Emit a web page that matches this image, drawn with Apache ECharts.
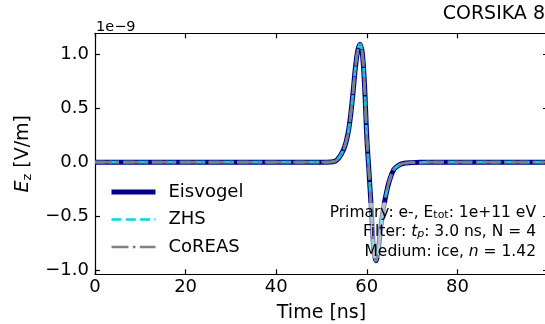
<!DOCTYPE html>
<html>
<head>
<meta charset="utf-8">
<script src="https://cdn.jsdelivr.net/npm/echarts@6/dist/echarts.min.js"></script>
<style>
html,body{margin:0;padding:0;background:#fff;}
#c{width:545px;height:324px;}
</style>
</head>
<body>
<div id="c"></div>
<script>
// ---- data (E_z in units of 1e-9 V/m) ----
var timeNs = [0, 10, 20, 30, 40, 50, 52, 53, 53.5, 54, 54.5, 55, 55.5, 56, 56.5, 57, 57.5, 58, 58.5, 59, 59.5, 60, 60.5, 61, 61.5, 62, 62.5, 63, 63.5, 64, 64.5, 65, 66, 67, 68, 70, 72, 75, 80, 90, 100];
var eisvogel = [0, 0, 0, 0, 0, 0, 0.002, 0.01, 0.025, 0.05, 0.085, 0.13, 0.2, 0.3, 0.46, 0.66, 0.88, 1.03, 1.09, 1.01, 0.71, 0.23, -0.1, -0.44, -0.8, -0.91, -0.82, -0.63, -0.47, -0.35, -0.25, -0.17, -0.065, -0.03, -0.012, -0.004, -0.001, 0, 0, 0, 0];
var zhs = [0, 0, 0, 0, 0, 0, 0.002, 0.01, 0.025, 0.05, 0.085, 0.13, 0.2, 0.3, 0.46, 0.66, 0.88, 1.03, 1.09, 1.01, 0.71, 0.23, -0.1, -0.44, -0.8, -0.91, -0.82, -0.63, -0.47, -0.35, -0.25, -0.17, -0.065, -0.03, -0.012, -0.004, -0.001, 0, 0, 0, 0];
var coreas = [0, 0, 0, 0, 0, 0, 0.002, 0.01, 0.025, 0.05, 0.085, 0.13, 0.2, 0.3, 0.46, 0.66, 0.88, 1.03, 1.09, 1.01, 0.71, 0.23, -0.1, -0.44, -0.8, -0.91, -0.82, -0.63, -0.47, -0.35, -0.25, -0.17, -0.065, -0.03, -0.012, -0.004, -0.001, 0, 0, 0, 0];
var xTicks = [0, 20, 40, 60, 80];
var yTicks = [-1, -0.5, 0, 0.5, 1];
var seriesNames = ['Eisvogel', 'ZHS', 'CoREAS'];

function pairs(xs, ys) { return xs.map(function (x, i) { return [x, ys[i]]; }); }
function fmtY(v) { var s = Math.abs(v) < 1e-9 ? '0.0' : v.toFixed(1); return s.replace('-', '\u2212'); }

var FONT = 'DejaVu Sans';
var chart = echarts.init(document.getElementById('c'), null, {renderer: 'canvas'});
function axisLine() { return {show: true, onZero: false, lineStyle: {color: '#000', width: 1.2}}; }
function tick(vals) { return {show: true, inside: true, length: 5, customValues: vals, lineStyle: {color: '#000', width: 1.2}}; }

var styles = {
  Eisvogel: {color: '#00008b', width: 5, type: 'solid'},
  ZHS: {color: '#00d8e0', width: 2.7, type: [10, 4.3]},
  CoREAS: {color: '#808080', width: 2.7, type: [17, 4.3, 2.7, 4.3]}
};

chart.setOption({
  animation: false,
  backgroundColor: '#fff',
  textStyle: {fontFamily: FONT},
  grid: {left: 95, right: -3, top: 33.3, bottom: 49.7, containLabel: false, outerBoundsMode: 'none'},
  title: {
    text: 'CORSIKA 8', right: 0, top: 5, padding: 0,
    textStyle: {fontFamily: FONT, fontSize: 19, fontWeight: 'normal', color: '#000'}
  },
  legend: {
    orient: 'vertical', left: 104, top: 178,
    itemWidth: 44, itemHeight: 14, itemGap: 9.5,
    itemStyle: {opacity: 0},
    data: seriesNames.map(function (n) {
      return {name: n, itemStyle: {opacity: 0}, lineStyle: {width: styles[n].width, type: styles[n].type, color: styles[n].color}};
    }),
    textStyle: {fontFamily: FONT, fontSize: 18, color: '#000', lineHeight: 18, padding: [0, 0, 0, 8]}
  },
  xAxis: [{
    type: 'value', min: 0, max: 100, position: 'bottom',
    name: 'Time [ns]', nameLocation: 'middle', nameGap: 29,
    nameTextStyle: {fontFamily: FONT, fontSize: 19, color: '#000'},
    axisLine: axisLine(), axisTick: tick(xTicks),
    axisLabel: {customValues: xTicks, margin: 4, fontFamily: FONT, fontSize: 18, color: '#000'},
    splitLine: {show: false}
  }, {
    type: 'value', min: 0, max: 100, position: 'top',
    axisLine: axisLine(), axisTick: tick(xTicks),
    axisLabel: {show: false}, splitLine: {show: false}
  }],
  yAxis: [{
    type: 'value', min: -1.035, max: 1.19, position: 'left',
    name: '{i|E}{s|z} [V/m]', nameLocation: 'middle', nameGap: 54,
    nameTextStyle: {
      fontFamily: FONT, fontSize: 19, color: '#000',
      rich: {
        i: {fontFamily: FONT, fontSize: 19, fontStyle: 'italic', color: '#000', lineHeight: 22},
        s: {fontFamily: FONT, fontSize: 13, color: '#000', verticalAlign: 'bottom', lineHeight: 14}
      }
    },
    axisLine: axisLine(), axisTick: tick(yTicks),
    axisLabel: {customValues: yTicks, margin: 6, fontFamily: FONT, fontSize: 18, color: '#000', formatter: fmtY},
    splitLine: {show: false}
  }, {
    type: 'value', min: -1.035, max: 1.19, position: 'right',
    axisLine: axisLine(), axisTick: tick(yTicks),
    axisLabel: {show: false}, splitLine: {show: false}
  }],
  series: [{
    name: 'Eisvogel', type: 'line', data: pairs(timeNs, eisvogel), xAxisIndex: 0, yAxisIndex: 0,
    showSymbol: false, symbol: 'none', smooth: 0.4, z: 2,
    lineStyle: styles.Eisvogel, itemStyle: {color: styles.Eisvogel.color}
  }, {
    name: 'ZHS', type: 'line', data: pairs(timeNs, zhs), xAxisIndex: 1, yAxisIndex: 1,
    showSymbol: false, symbol: 'none', smooth: 0.4, z: 3,
    lineStyle: styles.ZHS, itemStyle: {color: styles.ZHS.color}
  }, {
    name: 'CoREAS', type: 'line', data: pairs(timeNs, coreas), xAxisIndex: 0, yAxisIndex: 0,
    showSymbol: false, symbol: 'none', smooth: 0.4, z: 4,
    lineStyle: styles.CoREAS, itemStyle: {color: styles.CoREAS.color}
  }],
  graphic: [
    {type: 'text', left: 96, top: 20, z: 10,
     style: {text: '1e\u22129', font: '14.5px "DejaVu Sans"', fill: '#000'}},
    {type: 'rect', z: 9, shape: {x: 324, y: 203, width: 216, height: 55},
     style: {fill: 'rgba(255,255,255,0.5)'}},
    {type: 'text', x: 536, y: 213, z: 10,
     style: {text: 'Primary: e-, E{s|tot}: 1e+11 eV', align: 'right', verticalAlign: 'middle',
       font: '15.5px "DejaVu Sans"', fill: '#000',
       rich: {s: {fontFamily: FONT, fontSize: 11, fill: '#000', verticalAlign: 'bottom', lineHeight: 12}}}},
    {type: 'text', x: 536, y: 232, z: 10,
     style: {text: 'Filter: {i|t}{s|p}: 3.0 ns, N = 4', align: 'right', verticalAlign: 'middle',
       font: '15.5px "DejaVu Sans"', fill: '#000',
       rich: {i: {fontFamily: FONT, fontSize: 15.5, fontStyle: 'italic', fill: '#000'},
              s: {fontFamily: FONT, fontSize: 11, fontStyle: 'italic', fill: '#000', verticalAlign: 'bottom', lineHeight: 12}}}},
    {type: 'text', x: 536, y: 252, z: 10,
     style: {text: 'Medium: ice, {i|n} = 1.42', align: 'right', verticalAlign: 'middle',
       font: '15.5px "DejaVu Sans"', fill: '#000',
       rich: {i: {fontFamily: FONT, fontSize: 15.5, fontStyle: 'italic', fill: '#000'}}}}
  ]
});
</script>
</body>
</html>
